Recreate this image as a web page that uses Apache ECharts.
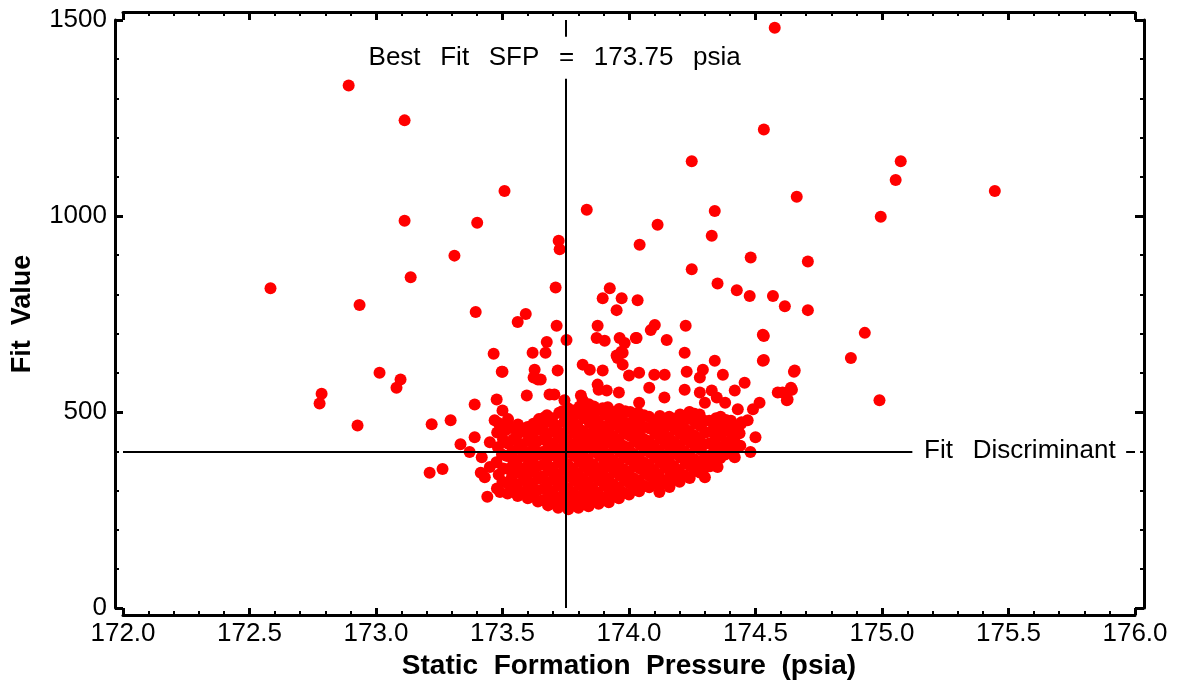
<!DOCTYPE html>
<html>
<head>
<meta charset="utf-8">
<script src="https://cdn.jsdelivr.net/npm/echarts@6/dist/echarts.min.js"></script>
<style>html,body{margin:0;background:#fff}#chart{width:1180px;height:685px}</style>
</head>
<body>
<div id="chart"></div>
<script>
// axis ranges
var xRange = [172, 176];
var yRange = [0, 1500];

// reference lines
var bestFitSFP = 173.75;
var fitDiscriminant = 400;
var sfpLineGap = [1350, 1457];      // where the SFP label cuts the vertical line
var discLineGap = [175.12, 175.965]; // where the label cuts the horizontal line
var sfpLabelPos = [173.706, 1404];
var discLabelPos = [175.545, 400];

// scattered points, well above the cluster
var upperPoints = [
  [174.576,1480],[172.892,1333],[173.113,1244],[174.533,1221],[174.248,1140],[175.074,1140],
  [175.054,1092],[175.446,1064],[173.508,1064],[174.663,1049],[173.113,988],[174.995,998],
  [173.833,1016],[174.339,1013],[173.40,983],[174.113,978],[173.722,937],[174.327,950],
  [173.726,915],[174.042,927],[173.31,899],[174.481,894],[174.707,884],[174.248,864],
  [173.137,844],[172.583,816],[173.71,818],[174.35,828],[174.426,811],[173.924,816],
  [173.896,790],[173.971,790],[174.034,785],[174.477,796],[174.569,796],[174.616,770],
  [172.935,773],[174.707,760],[173.394,755],[173.592,750],[173.56,730],[173.714,720],
  [174.102,722],[173.876,720],[174.224,720],[174.086,709],[174.932,702],[174.533,694],
  [173.753,684],[173.872,689],[173.904,682],[173.963,689],[174.03,689],[173.983,676],
  [173.951,760],[173.97,654],[173.465,649],[173.67,651],[174.877,638],[174.533,633],
  [173.955,638],[174.652,603],[173.627,608],[173.50,603],[173.014,600],[173.097,583],
  [173.081,562],[172.785,547],[172.777,522],[174.64,562],[174.607,550],[174.627,532],
  [174.99,530],[172.927,466],[173.22,469],[173.295,479],[173.334,418],[173.212,345],
  [173.263,355],[174.30,385],[174.418,385]
];

// looser points round the edge of the cluster
var edgePoints = [
  [173.619,651],[173.675,679],[173.623,588],[173.651,583],[173.686,545],[173.705,545],
  [173.745,530],[173.718,606],[173.817,621],[173.845,608],[173.81,542],[173.896,606],
  [173.876,570],[173.975,651],[173.951,644],[173.975,621],[174.149,684],[174.22,651],
  [174.141,595],[174.228,603],[174.292,608],[174.339,631],[174.371,595],[174.529,697],
  [174.529,631],[174.655,606],[174.588,550],[174.624,530],[174.644,557],[174.418,555],
  [174.43,507],[174.469,479],[174.327,555],[174.347,537],[174.22,557],[174.027,689],
  [173.817,530],[173.912,555],[173.497,603],[173.477,532],[173.50,504],[173.469,479],
  [173.39,519],[173.418,385],[173.414,345],[173.45,423],[173.596,542],[173.64,583],
  [174.04,600],[174.10,595],[174.08,562],[174.14,537],[174.28,588],[174.30,524],
  [174.38,524],[174.457,575],[174.516,524],[174.49,507],[174.24,499],[174.04,524],
  [173.96,550],[173.88,557],[174.0,593],[174.28,550],[174.445,474],[174.5,436],
  [174.48,398],[174.35,360],[174.3,334],[174.16,309],[174.12,296],[173.39,436],
  [173.37,398],[173.43,334],[173.49,296],[173.44,284],[173.45,360]
];

// dense cluster round the best fit
var clusterPoints = [
  [173.478,305],[173.485,340],[173.476,372],[173.482,410],[173.479,448],[173.484,472],
  [173.52,292],[173.516,320],[173.523,355],[173.518,388],[173.521,420],[173.515,455],[173.522,482],
  [173.56,286],[173.557,315],[173.563,345],[173.558,378],[173.562,408],[173.556,440],[173.561,468],
  [173.60,280],[173.604,308],[173.598,338],[173.603,366],[173.597,398],[173.602,428],[173.599,462],
  [173.64,272],[173.637,300],[173.643,330],[173.638,362],[173.642,392],[173.636,425],[173.641,455],[173.644,482],
  [173.68,262],[173.684,290],[173.678,320],[173.683,350],[173.677,382],[173.682,412],[173.679,444],[173.685,475],[173.676,492],
  [173.72,256],[173.716,282],[173.722,312],[173.717,342],[173.723,372],[173.718,405],[173.721,435],[173.715,465],[173.724,498],
  [173.76,252],[173.764,278],[173.758,306],[173.763,336],[173.757,366],[173.762,396],[173.756,428],[173.761,458],[173.765,488],[173.759,510],
  [173.80,256],[173.797,285],[173.803,314],[173.798,344],[173.804,374],[173.799,404],[173.802,434],[173.796,466],[173.801,495],[173.805,514],
  [173.84,260],[173.844,290],[173.838,320],[173.843,350],[173.837,380],[173.842,410],[173.839,442],[173.845,472],[173.836,500],[173.841,520],
  [173.88,266],[173.877,295],[173.883,326],[173.878,356],[173.884,388],[173.879,418],[173.882,448],[173.876,478],[173.881,506],
  [173.92,270],[173.924,300],[173.918,330],[173.923,362],[173.917,392],[173.922,422],[173.919,454],[173.925,484],[173.916,512],
  [173.96,280],[173.957,308],[173.963,338],[173.958,368],[173.964,398],[173.959,430],[173.962,460],[173.956,490],[173.961,508],
  [174.00,290],[174.004,318],[173.998,348],[174.003,378],[173.997,410],[174.002,440],[173.999,470],[174.005,500],
  [174.04,298],[174.037,326],[174.043,356],[174.038,386],[174.044,416],[174.039,446],[174.042,476],[174.036,498],
  [174.08,308],[174.084,336],[174.078,366],[174.083,396],[174.077,426],[174.082,458],[174.079,488],
  [174.12,312],[174.117,342],[174.123,372],[174.118,402],[174.124,432],[174.119,462],[174.122,490],
  [174.16,314],[174.164,346],[174.158,376],[174.163,406],[174.157,436],[174.162,466],[174.159,488],
  [174.20,322],[174.197,352],[174.203,384],[174.198,414],[174.204,444],[174.199,474],[174.202,494],
  [174.24,332],[174.244,362],[174.238,392],[174.243,422],[174.237,452],[174.242,482],[174.239,500],
  [174.28,346],[174.277,374],[174.283,404],[174.278,434],[174.284,464],[174.279,494],
  [174.32,362],[174.324,390],[174.318,420],[174.323,450],[174.317,478],
  [174.36,382],[174.357,410],[174.363,440],[174.358,468],[174.362,488],
  [174.40,402],[174.404,430],[174.398,458],[174.403,478],
  [174.44,414],[174.437,446],[174.443,470]
];

// second layer of the cluster, sitting between the columns above
var clusterFill = [
  [173.50,322],[173.503,356],[173.498,392],[173.502,430],[173.499,462],
  [173.54,300],[173.537,334],[173.543,368],[173.538,398],[173.542,430],[173.539,460],
  [173.58,296],[173.584,326],[173.578,356],[173.583,388],[173.577,418],[173.582,450],
  [173.62,288],[173.617,318],[173.623,348],[173.618,380],[173.624,410],[173.619,442],[173.622,470],
  [173.66,276],[173.664,305],[173.658,336],[173.663,366],[173.657,398],[173.662,430],[173.659,462],[173.665,486],
  [173.70,268],[173.697,298],[173.703,328],[173.698,358],[173.704,390],[173.699,420],[173.702,452],[173.696,484],
  [173.74,264],[173.744,292],[173.738,322],[173.743,352],[173.737,382],[173.742,414],[173.739,446],[173.745,476],[173.736,502],
  [173.78,266],[173.777,296],[173.783,326],[173.778,356],[173.784,388],[173.779,418],[173.782,448],[173.776,478],[173.781,504],
  [173.82,272],[173.824,300],[173.818,330],[173.823,360],[173.817,390],[173.822,420],[173.819,452],[173.825,484],[173.816,510],
  [173.86,276],[173.857,306],[173.863,336],[173.858,366],[173.864,398],[173.859,430],[173.862,460],[173.856,490],[173.861,514],
  [173.90,282],[173.904,312],[173.898,342],[173.903,372],[173.897,404],[173.902,434],[173.899,464],[173.905,494],[173.896,510],
  [173.94,286],[173.937,316],[173.943,348],[173.938,378],[173.944,408],[173.939,438],[173.942,470],[173.936,500],
  [173.98,294],[173.984,324],[173.978,354],[173.983,384],[173.977,414],[173.982,446],[173.979,476],[173.985,502],
  [174.02,302],[174.017,332],[174.023,362],[174.018,394],[174.024,424],[174.019,456],[174.022,486],
  [174.06,312],[174.064,342],[174.058,372],[174.063,402],[174.057,432],[174.062,462],[174.059,492],
  [174.10,322],[174.097,352],[174.103,384],[174.098,414],[174.104,444],[174.099,474],
  [174.14,326],[174.144,358],[174.138,390],[174.143,420],[174.137,450],[174.142,478],
  [174.18,332],[174.177,362],[174.183,394],[174.178,424],[174.184,454],[174.179,482],
  [174.22,338],[174.224,368],[174.218,400],[174.223,430],[174.217,460],[174.222,488],
  [174.26,350],[174.257,380],[174.263,410],[174.258,440],[174.264,470],[174.259,496],
  [174.30,358],[174.304,388],[174.298,418],[174.303,448],[174.297,478],
  [174.34,372],[174.337,402],[174.343,432],[174.338,462],[174.344,484],
  [174.38,392],[174.384,422],[174.378,452],[174.383,480],
  [174.42,406],[174.417,436],[174.423,464]
];

var fontFamily = '"Liberation Sans", Arial, sans-serif';
var chart = echarts.init(document.getElementById('chart'));

function frameAxis(position, offset, tickLen, withLabels) {
  var isX = position == 'bottom' || position == 'top';
  var range = isX ? xRange : yRange;
  return {
    type: 'value',
    position: position,
    min: range[0],
    max: range[1],
    interval: isX ? 0.5 : 500,
    offset: offset,
    axisLine: { show: true, onZero: false, lineStyle: { color: '#000', width: 3 } },
    axisTick: { show: true, inside: true, length: tickLen, lineStyle: { color: '#000', width: 3 } },
    minorTick: { show: true, splitNumber: 5, length: 4, lineStyle: { color: '#000', width: 2 } },
    splitLine: { show: false },
    axisLabel: {
      show: withLabels,
      color: '#000',
      fontSize: 26,
      fontFamily: fontFamily,
      margin: isX ? 6 : 8,
      formatter: function (v) { return isX ? v.toFixed(1) : String(v); }
    }
  };
}

var xBottom = frameAxis('bottom', 7, 7, true);
xBottom.name = 'Static  Formation  Pressure  (psia)';
xBottom.nameLocation = 'middle';
xBottom.nameGap = 30;
xBottom.nameTextStyle = { color: '#000', fontSize: 28, fontWeight: 'bold', fontFamily: fontFamily };

var yLeft = frameAxis('left', 8, 8, true);
yLeft.name = 'Fit  Value';
yLeft.nameLocation = 'middle';
yLeft.nameGap = 79;
yLeft.nameTextStyle = { color: '#000', fontSize: 27, fontWeight: 'bold', fontFamily: fontFamily };

var labelStyle = { show: true, position: 'inside', color: '#000', fontSize: 26, fontFamily: fontFamily };

var option = {
  animation: false,
  backgroundColor: '#fff',
  grid: { left: 123, right: 45, top: 20, bottom: 73 },
  xAxis: [xBottom, frameAxis('top', 8, 8, false)],
  yAxis: [yLeft, frameAxis('right', 9, 9, false)],
  series: [{
    type: 'scatter',
    silent: true,
    symbol: 'circle',
    symbolSize: 12,
    itemStyle: { color: '#ff0000', opacity: 1 },
    data: upperPoints.concat(edgePoints, clusterPoints, clusterFill),
    markLine: {
      silent: true,
      symbol: 'none',
      label: { show: false },
      lineStyle: { color: '#000', width: 2, type: 'solid' },
      data: [
        [{ coord: [bestFitSFP, yRange[0]] }, { coord: [bestFitSFP, sfpLineGap[0]] }],
        [{ coord: [bestFitSFP, sfpLineGap[1]] }, { coord: [bestFitSFP, yRange[1]] }],
        [{ coord: [xRange[0], fitDiscriminant] }, { coord: [discLineGap[0], fitDiscriminant] }],
        [{ coord: [discLineGap[1], fitDiscriminant] }, { coord: [xRange[1], fitDiscriminant] }]
      ]
    },
    markPoint: {
      silent: true,
      symbol: 'circle',
      symbolSize: 0,
      data: [
        { coord: sfpLabelPos, label: Object.assign({ formatter: 'Best  \u2009Fit  \u2009SFP  \u2009=  \u2009173.75  \u2009psia' }, labelStyle) },
        { coord: discLabelPos, label: Object.assign({ formatter: 'Fit  \u2009Discriminant' }, labelStyle) }
      ]
    }
  }]
};
chart.setOption(option);
</script>
</body>
</html>
